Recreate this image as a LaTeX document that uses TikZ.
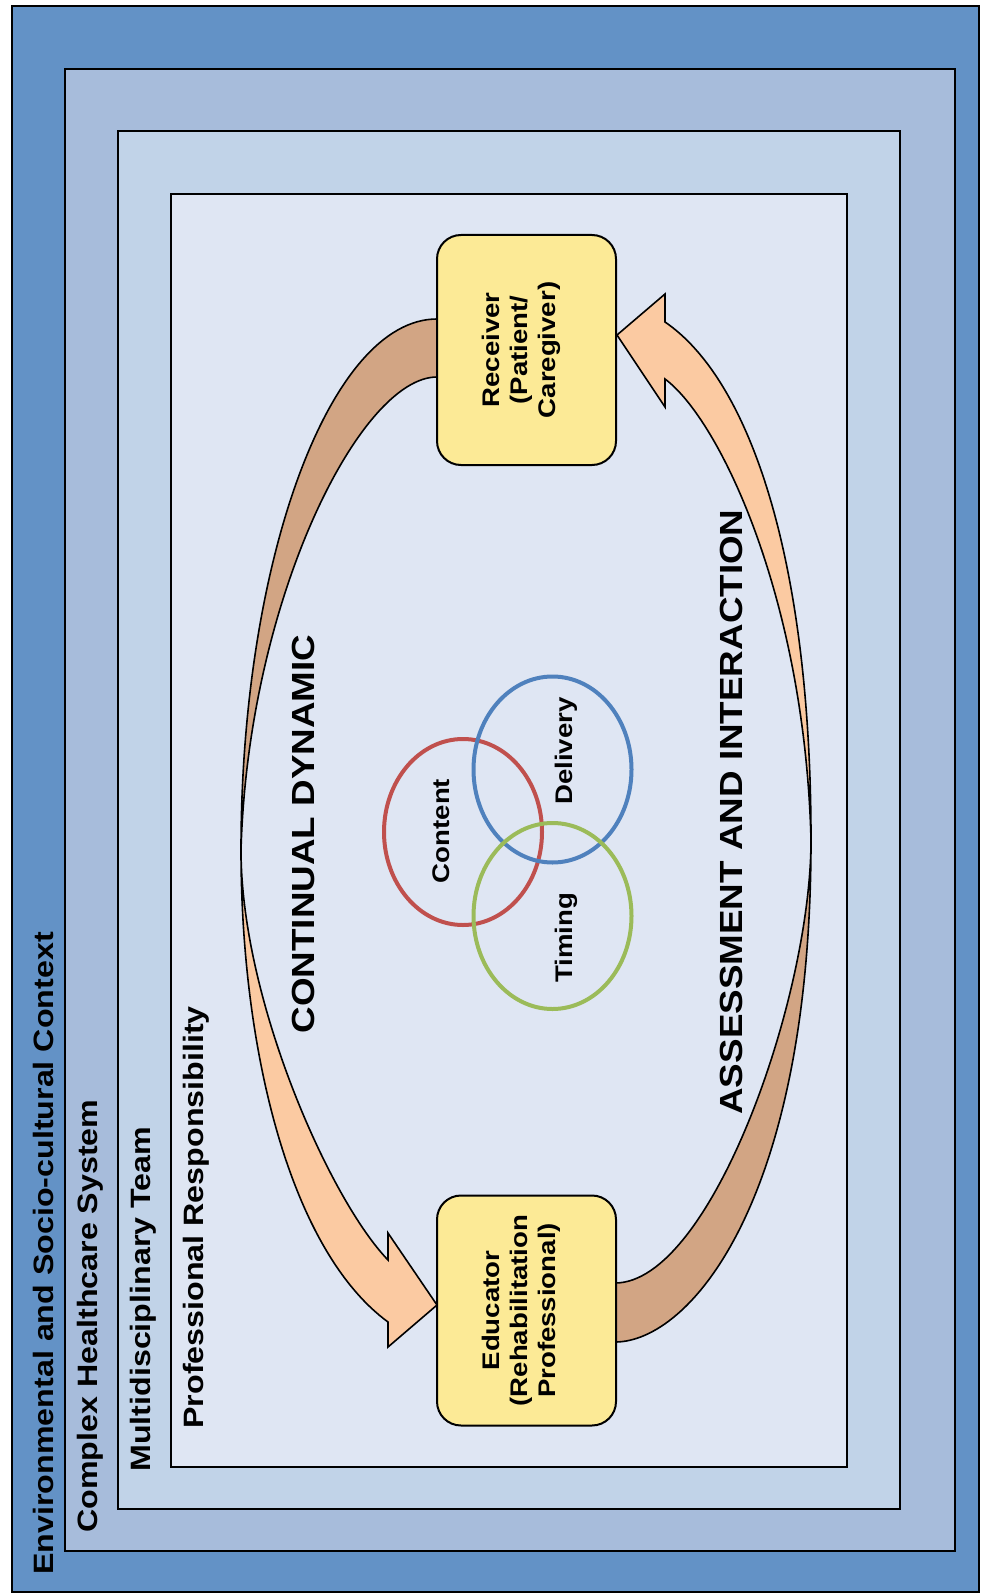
\documentclass[tikz,border=0pt]{standalone}
\usepackage{fontspec}
\setmainfont{Liberation Sans}
\usepackage{tikz}
\usetikzlibrary{fit, shapes.geometric}

\definecolor{EnvBlue}{HTML}{6392C6}
\definecolor{SystemBlue}{HTML}{A7BCDB}
\definecolor{TeamBlue}{HTML}{C1D3E8}
\definecolor{RespBlue}{HTML}{DFE6F3}
\definecolor{BoxYellow}{HTML}{FCEA96}
\definecolor{ArrowPeach}{HTML}{FBCAA2}
\definecolor{ArrowTan}{HTML}{D2A584}
\definecolor{RingRed}{HTML}{C0504D}
\definecolor{RingBlue}{HTML}{4F81BD}
\definecolor{RingGreen}{HTML}{9BBB59}

\begin{document}
\begin{tikzpicture}
    [x=0.5pt, y=-0.5pt,
    layer/.style={draw, line width=1pt, inner sep=0pt, fill=#1},
    layerlabel/.style={rotate=90, xscale=1.15, anchor=base west, inner sep=0pt,
    font=\fontsize{14}{16}\selectfont\bfseries},
    theme/.style={rotate=90, xscale=1.15, anchor=base, inner sep=0pt,
    font=\fontsize{16}{18}\selectfont\bfseries},
    actor/.style={rectangle, draw, line width=1pt, fill=BoxYellow, rounded corners=12pt,
    minimum width=89.5pt, minimum height=115pt},
    actortext/.style={rotate=90, xscale=1.15, align=center, inner sep=0pt,
    font=\fontsize{12}{14}\selectfont\bfseries},
    ring/.style={ellipse, draw=#1, line width=2pt, minimum width=79pt, minimum height=93pt},
    ringlabel/.style={rotate=90, xscale=1.15, anchor=base, inner sep=0pt,
    font=\fontsize{12}{14}\selectfont\bfseries},
    front/.style={draw, line width=0.8pt, fill=ArrowPeach},
    back/.style={draw, line width=0.8pt, fill=ArrowTan}]
    \useasboundingbox (0,0) rectangle (981,1593);
    \node [layer=EnvBlue, fit={(12,6) (979,1592)}] (env) {};
    \node [layer=SystemBlue, fit={(65,69) (955,1551)}] (system) {};
    \node [layer=TeamBlue, fit={(118,131) (900,1509)}] (team) {};
    \node [layer=RespBlue, fit={(171,194) (847,1467)}] (resp) {};

    \node [layerlabel] (envlabel) at (53,1575) {Environmental and Socio-cultural Context};
    \node [layerlabel] (systemlabel) at (97,1533) {Complex Healthcare System};
    \node [layerlabel] (teamlabel) at (150,1472) {Multidisciplinary Team};
    \node [layerlabel] (resplabel) at (203,1429) {Professional Responsibility};

    \coordinate (leftturn) at (241,850);
    \coordinate (rightturn) at (811,840);
    \path [back] (437,319) .. controls (330,319) and (241,560) .. (leftturn)
    .. controls (248,600) and (360,377) .. (437,377) -- cycle;
    \path [front] (leftturn) .. controls (241,1050) and (290,1250) .. (388,1322)
    -- (388,1347) -- (437,1305) -- (388,1233) -- (388,1260)
    .. controls (330,1200) and (241,1000) .. (leftturn) -- cycle;
    \path [back] (615,1342) .. controls (690,1342) and (811,1200) .. (rightturn)
    .. controls (811,1000) and (710,1283) .. (615,1283) -- cycle;
    \path [front] (rightturn) .. controls (811,560) and (750,380) .. (665,322)
    -- (665,294) -- (617,335) -- (665,407) -- (665,379)
    .. controls (720,420) and (805,600) .. (rightturn) -- cycle;

    \node [actor] (receiver) at (526.5,350) {};
    \node [actor] (educator) at (526.5,1310.5) {};
    \node [actortext] (receivertext) at ([xshift=-2.5pt]receiver.center)
    {Receiver\\(Patient/\\Caregiver)};
    \node [actortext] (educatortext) at ([xshift=-2.5pt]educator.center)
    {Educator\\(Rehabilitation\\Professional)};

    \node [ring=RingRed] (content) at (463,832) {};
    \node [ring=RingBlue] (delivery) at (552.5,769.5) {};
    \node [ring=RingGreen] (timing) at (552.5,916) {};
    \node [ringlabel] (contentlabel) at (449,831) {Content};
    \node [ringlabel] (deliverylabel) at (572,751) {Delivery};
    \node [ringlabel] (timinglabel) at (572,938) {Timing};

    \node [theme] (dynamic) at (314,834) {CONTINUAL DYNAMIC};
    \node [theme] (assessment) at (742,812) {ASSESSMENT AND INTERACTION};
\end{tikzpicture}
\end{document}
